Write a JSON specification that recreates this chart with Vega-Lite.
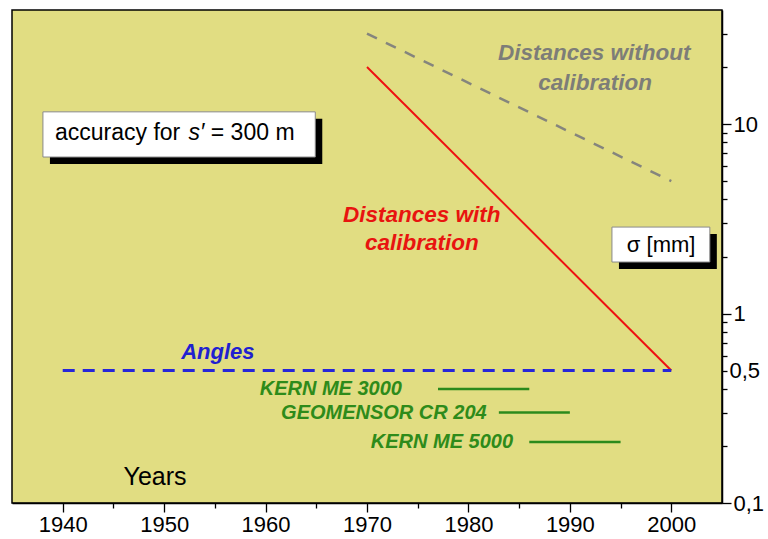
{
  "$schema": "https://vega.github.io/schema/vega-lite/v6.json",
  "width": 710,
  "height": 493,
  "autosize": {"type": "none"},
  "padding": {"left": 12, "top": 10, "right": 46, "bottom": 36},
  "background": "#ffffff",
  "config": {
    "view": {"fill": "#e1dd82", "stroke": "#000000", "strokeWidth": 1.5},
    "axis": {"labelFont": "Liberation Sans", "labelFontSize": 22, "labelColor": "#000000", "domainColor": "#000000", "domainWidth": 1.5, "tickColor": "#000000", "tickWidth": 1.3, "grid": false, "labelOverlap": false}
  },
  "datasets": {
    "lines": [
      {"series": "without", "year": 1970, "value": 30},
      {"series": "without", "year": 2000, "value": 5},
      {"series": "with", "year": 1970, "value": 20},
      {"series": "with", "year": 2000, "value": 0.5},
      {"series": "angles", "year": 1940, "value": 0.5},
      {"series": "angles", "year": 2000, "value": 0.5},
      {"series": "KERN ME 3000", "year": 1977, "value": 0.4},
      {"series": "KERN ME 3000", "year": 1986, "value": 0.4},
      {"series": "GEOMENSOR CR 204", "year": 1983, "value": 0.3},
      {"series": "GEOMENSOR CR 204", "year": 1990, "value": 0.3},
      {"series": "KERN ME 5000", "year": 1986, "value": 0.21},
      {"series": "KERN ME 5000", "year": 1995, "value": 0.21}
    ],
    "boxes": [
      {"box": "accuracy", "year": 1938.05, "year2": 1964.9, "value": 11.6, "value2": 6.7},
      {"box": "sigma", "year": 1994.15, "year2": 2003.8, "value": 2.86, "value2": 1.87}
    ],
    "texts": [
      {"kind": "green", "label": "KERN ME 3000", "year": 1973.45, "value": 0.4},
      {"kind": "green", "label": "GEOMENSOR CR 204", "year": 1981.8, "value": 0.3},
      {"kind": "green", "label": "KERN ME 5000", "year": 1984.4, "value": 0.21},
      {"kind": "red", "label": "Distances with", "year": 1975.4, "value": 3.31},
      {"kind": "red", "label": "calibration", "year": 1975.4, "value": 2.36},
      {"kind": "gray", "label": "Distances without", "year": 1992.4, "value": 23.7},
      {"kind": "gray", "label": "calibration", "year": 1992.5, "value": 16.4},
      {"kind": "blue", "label": "Angles", "year": 1955.3, "value": 0.627},
      {"kind": "plain", "label": "Years", "year": 1949.1, "value": 0.137},
      {"kind": "boxtext", "label": "accuracy for", "year": 1939.24, "value": 8.98},
      {"kind": "boxitalic", "label": "s′", "year": 1952.4, "value": 8.98},
      {"kind": "boxtext", "label": "= 300 m", "year": 1954.6, "value": 8.98},
      {"kind": "sigma", "label": "σ [mm]", "year": 1999.0, "value": 2.3}
    ]
  },
  "encoding": {
    "x": {
      "field": "year", "type": "quantitative", "title": null,
      "scale": {"domain": [1935, 2005], "nice": false, "zero": false},
      "axis": {
        "values": [1940, 1945, 1950, 1955, 1960, 1965, 1970, 1975, 1980, 1985, 1990, 1995, 2000],
        "labelExpr": "datum.value % 10 === 0 ? '' + datum.value : ''",
        "tickSize": {"condition": {"test": "datum.value % 10 === 0", "value": 9}, "value": 5},
        "labelPadding": 2
      }
    },
    "y": {
      "field": "value", "type": "quantitative", "title": null,
      "scale": {"type": "log", "domain": [0.1, 40], "nice": false},
      "axis": {
        "orient": "right",
        "values": [0.1, 0.2, 0.3, 0.4, 0.5, 0.6, 0.7, 0.8, 0.9, 1, 2, 3, 4, 5, 6, 7, 8, 9, 10, 20, 30],
        "labelExpr": "datum.value === 0.1 ? '0,1' : datum.value === 0.5 ? '0,5' : datum.value === 1 ? '1' : datum.value === 10 ? '10' : ''",
        "tickSize": {"condition": {"test": "datum.value === 0.1 || datum.value === 1 || datum.value === 10", "value": 9}, "value": 5},
        "labelPadding": 2
      }
    }
  },
  "layer": [
    {
      "data": {"name": "boxes"},
      "mark": {"type": "rect", "fill": "#000000", "xOffset": 7, "x2Offset": 7, "yOffset": 7, "y2Offset": 7},
      "encoding": {"x2": {"field": "year2"}, "y2": {"field": "value2"}}
    },
    {
      "data": {"name": "boxes"},
      "mark": {"type": "rect", "fill": "#ffffff", "stroke": "#8a8a8a", "strokeWidth": 1},
      "encoding": {"x2": {"field": "year2"}, "y2": {"field": "value2"}}
    },
    {
      "data": {"name": "lines"},
      "transform": [{"filter": "datum.series === 'without'"}],
      "mark": {"type": "line", "color": "#85857d", "strokeWidth": 2.5, "strokeDash": [11, 10]}
    },
    {
      "data": {"name": "lines"},
      "transform": [{"filter": "datum.series === 'with'"}],
      "mark": {"type": "line", "color": "#ee1111", "strokeWidth": 2}
    },
    {
      "data": {"name": "lines"},
      "transform": [{"filter": "datum.series === 'angles'"}],
      "mark": {"type": "line", "color": "#2626d8", "strokeWidth": 3, "strokeDash": [12, 8]}
    },
    {
      "data": {"name": "lines"},
      "transform": [{"filter": "datum.series !== 'angles' && datum.series !== 'with' && datum.series !== 'without'"}],
      "mark": {"type": "line", "color": "#2b8a1c", "strokeWidth": 2.5},
      "encoding": {"detail": {"field": "series"}}
    },
    {
      "data": {"name": "texts"},
      "transform": [{"filter": "datum.kind === 'green'"}],
      "mark": {"type": "text", "align": "right", "baseline": "middle", "font": "Liberation Sans", "fontSize": 20, "fontWeight": "bold", "fontStyle": "italic", "color": "#2e8b1a"},
      "encoding": {"text": {"field": "label"}}
    },
    {
      "data": {"name": "texts"},
      "transform": [{"filter": "datum.kind === 'red'"}],
      "mark": {"type": "text", "align": "center", "baseline": "middle", "font": "Liberation Sans", "fontSize": 22.5, "fontWeight": "bold", "fontStyle": "italic", "color": "#e8140f"},
      "encoding": {"text": {"field": "label"}}
    },
    {
      "data": {"name": "texts"},
      "transform": [{"filter": "datum.kind === 'gray'"}],
      "mark": {"type": "text", "align": "center", "baseline": "middle", "font": "Liberation Sans", "fontSize": 22.5, "fontWeight": "bold", "fontStyle": "italic", "color": "#7d7d78"},
      "encoding": {"text": {"field": "label"}}
    },
    {
      "data": {"name": "texts"},
      "transform": [{"filter": "datum.kind === 'blue'"}],
      "mark": {"type": "text", "align": "center", "baseline": "middle", "font": "Liberation Sans", "fontSize": 22, "fontWeight": "bold", "fontStyle": "italic", "color": "#2020d0"},
      "encoding": {"text": {"field": "label"}}
    },
    {
      "data": {"name": "texts"},
      "transform": [{"filter": "datum.kind === 'plain'"}],
      "mark": {"type": "text", "align": "center", "baseline": "middle", "font": "Liberation Sans", "fontSize": 25, "color": "#000000"},
      "encoding": {"text": {"field": "label"}}
    },
    {
      "data": {"name": "texts"},
      "transform": [{"filter": "datum.kind === 'boxtext'"}],
      "mark": {"type": "text", "align": "left", "baseline": "middle", "font": "Liberation Sans", "fontSize": 23, "color": "#000000"},
      "encoding": {"text": {"field": "label"}}
    },
    {
      "data": {"name": "texts"},
      "transform": [{"filter": "datum.kind === 'boxitalic'"}],
      "mark": {"type": "text", "align": "left", "baseline": "middle", "font": "Liberation Sans", "fontSize": 23, "fontStyle": "italic", "color": "#000000"},
      "encoding": {"text": {"field": "label"}}
    },
    {
      "data": {"name": "texts"},
      "transform": [{"filter": "datum.kind === 'sigma'"}],
      "mark": {"type": "text", "align": "center", "baseline": "middle", "font": "Liberation Sans", "fontSize": 22, "color": "#000000"},
      "encoding": {"text": {"field": "label"}}
    }
  ]
}
